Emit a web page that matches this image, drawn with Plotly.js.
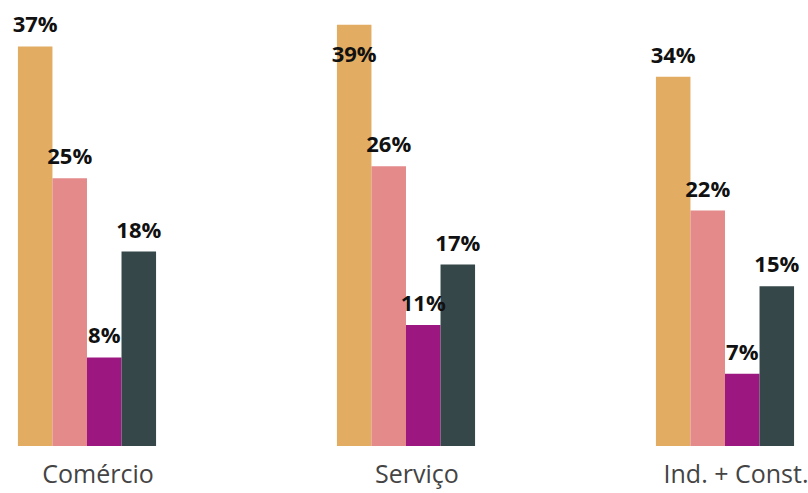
<!DOCTYPE html>
<html>
<head>
<meta charset="utf-8">
<script src="https://cdn.plot.ly/plotly-3.0.1.min.js"></script>
<style>html,body{margin:0;padding:0;background:#fff;}#chart{width:808px;height:493px;}</style>
</head>
<body>
<div id="chart"></div>
<script>
const categories = ['Comércio', 'Serviço', 'Ind. + Const.'];
const serie1 = [37.0, 39.0, 34.2];
const serie2 = [24.8, 25.9, 21.8];
const serie3 = [8.2, 11.2, 6.7];
const serie4 = [18.0, 16.8, 14.8];
const seriesNames = ['Série 1', 'Série 2', 'Série 3', 'Série 4'];
const colors = ['#E2AD62', '#E48A8A', '#9C1880', '#354749'];

const labelFont = {family: 'Open Sans', size: 22, color: '#111', weight: 700};
const allSeries = [serie1, serie2, serie3, serie4];
const isTop = v => v >= 38.5;

const barTraces = allSeries.map((vals, i) => ({
  type: 'bar',
  name: seriesNames[i],
  x: categories,
  y: vals,
  marker: {color: colors[i], line: {width: 0}},
  hoverinfo: 'none',
  showlegend: false
}));

const labelTraces = allSeries.map((vals, i) => ({
  type: 'scatter',
  mode: 'markers+text',
  name: seriesNames[i],
  x: categories,
  y: vals,
  texttemplate: '%{y:.0f}%',
  textposition: vals.map(v => (isTop(v) ? 'bottom center' : 'top center')),
  textfont: labelFont,
  marker: {size: vals.map(v => (isTop(v) ? 31 : 12)), opacity: 0, color: colors[i]},
  cliponaxis: false,
  hoverinfo: 'none',
  showlegend: false
}));

const layout = {
  width: 808, height: 493,
  margin: {l: 0, r: 0, t: 0, b: 47, pad: 0},
  paper_bgcolor: '#fff', plot_bgcolor: '#fff',
  barmode: 'group', bargap: 0.567, bargroupgap: 0,
  scattermode: 'group', scattergap: 0.567,
  showlegend: false,
  xaxis: {
    type: 'category',
    range: [-0.2727, 2.2602],
    showgrid: false, zeroline: false, showline: false, ticks: '',
    ticklabelshift: 11, ticklabelstandoff: 11,
    tickfont: {family: 'Open Sans', size: 25, color: '#444'}
  },
  yaxis: {
    range: [0, 41.3],
    visible: false, showgrid: false, zeroline: false
  }
};
Plotly.newPlot('chart', barTraces.concat(labelTraces), layout, {staticPlot: true, displayModeBar: false});
</script>
</body>
</html>
